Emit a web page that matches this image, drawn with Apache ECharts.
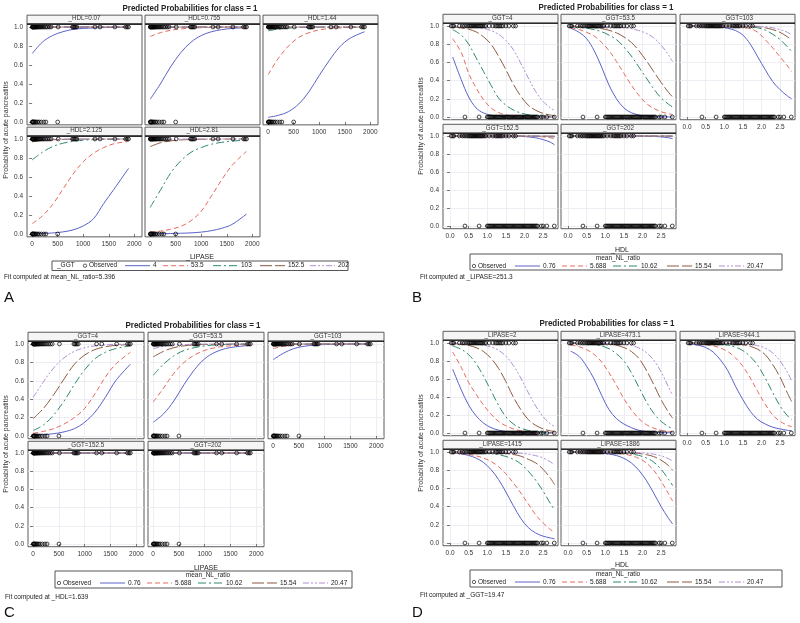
<!DOCTYPE html>
<html><head><meta charset="utf-8">
<script src="https://cdn.jsdelivr.net/npm/echarts/dist/echarts.min.js"></script>
<style>html,body{margin:0;padding:0;background:#fff}#c{width:800px;height:623px}</style>
</head><body><div id="c"></div><script>
// ---------- tick labels ----------
const lipTicks=[0,500,1000,1500,2000];
const hdlTicks=[0,0.5,1,1.5,2,2.5];
const probTicks=[0,0.2,0.4,0.6,0.8,1];
// ---------- x grids of the fitted curves ----------
const lipaseX=[2,200,400,600,800,1000,1200,1400,1600,1886];
const hdlX=[0.07,0.3,0.5,0.7,0.9,1.1,1.3,1.5,1.7,1.9,2.1,2.3,2.5,2.7,2.81];
// ---------- observed points ----------
const obsLipase1=[2,8,15,22,30,38,46,55,65,75,88,100,115,130,150,170,190,215,240,270,300,335,370,510,790,810,830,850,875,1230,1330,1620,1830,1860,1886];
const obsLipase0=[2,8,15,25,35,50,65,85,110,140,180,230,270,500];
const obsHdl1=[0.03,0.07,0.1,0.25,0.33,0.38,0.43,0.48,0.52,0.55,0.58,0.61,0.64,0.67,0.7,0.73,0.76,0.79,0.82,0.85,0.88,0.92,0.96,1.05,1.15,1.22,1.26,1.3,1.34,1.38,1.42,1.5,1.58,1.7,1.76];
const obsHdl0=[0.4,0.78,1.0,1.03,1.06,1.09,1.12,1.15,1.18,1.21,1.24,1.27,1.3,1.33,1.36,1.39,1.42,1.45,1.48,1.51,1.54,1.57,1.6,1.63,1.66,1.69,1.72,1.75,1.78,1.81,1.84,1.87,1.9,1.93,1.96,1.99,2.02,2.05,2.08,2.11,2.14,2.17,2.2,2.23,2.26,2.29,2.32,2.35,2.45,2.5,2.6,2.8];
// ---------- legend levels / strip headers ----------
const ggtLevels=['4','53.5','103','152.5','202'];
const nlLevels=['0.76','5.688','10.62','15.54','20.47'];
const aHeaders=['_HDL=0.07','_HDL=0.755','_HDL=1.44','_HDL=2.125','_HDL=2.81'];
const bHeaders=['_GGT=4','_GGT=53.5','_GGT=103','_GGT=152.5','_GGT=202'];
const cHeaders=['_GGT=4','_GGT=53.5','_GGT=103','_GGT=152.5','_GGT=202'];
const dHeaders=['_LIPASE=2','_LIPASE=473.1','_LIPASE=944.1','_LIPASE=1415','_LIPASE=1886'];
// ---------- Panel A: P vs LIPASE, curves by _GGT ----------
const a_hdl007=[[0.72,0.84,0.91,0.95,0.975,0.985,0.99,0.994,0.996,0.998],[0.99,0.994,0.997,0.998,0.999,1,1,1,1,1],[0.999,0.999,1,1,1,1,1,1,1,1],[1,1,1,1,1,1,1,1,1,1],[1,1,1,1,1,1,1,1,1,1]];
const a_hdl0755=[[0.24,0.40,0.58,0.73,0.84,0.91,0.95,0.972,0.985,0.993],[0.90,0.94,0.965,0.98,0.988,0.993,0.996,0.998,0.999,0.999],[0.99,0.994,0.997,0.998,0.999,1,1,1,1,1],[0.999,1,1,1,1,1,1,1,1,1],[1,1,1,1,1,1,1,1,1,1]];
const a_hdl144=[[0.05,0.07,0.11,0.19,0.32,0.49,0.65,0.79,0.88,0.95],[0.50,0.67,0.80,0.89,0.94,0.97,0.983,0.99,0.995,0.998],[0.96,0.978,0.988,0.994,0.997,0.998,0.999,1,1,1],[0.997,0.998,0.999,1,1,1,1,1,1,1],[0.999,1,1,1,1,1,1,1,1,1]];
const a_hdl2125=[[0.003,0.005,0.011,0.022,0.043,0.085,0.16,0.32,0.47,0.69],[0.11,0.19,0.31,0.47,0.63,0.76,0.85,0.91,0.95,0.975],[0.78,0.86,0.92,0.955,0.975,0.987,0.993,0.996,0.998,0.999],[0.97,0.985,0.992,0.996,0.998,0.999,1,1,1,1],[0.995,0.998,0.999,1,1,1,1,1,1,1]];
const a_hdl281=[[0.002,0.003,0.005,0.008,0.012,0.02,0.035,0.06,0.1,0.21],[0.02,0.03,0.05,0.08,0.14,0.24,0.4,0.57,0.72,0.87],[0.28,0.46,0.64,0.77,0.86,0.91,0.945,0.965,0.978,0.988],[0.92,0.96,0.98,0.99,0.995,0.997,0.998,0.999,1,1],[0.985,0.993,0.997,0.999,1,1,1,1,1,1]];
// ---------- Panel B: P vs HDL, curves by mean_NL_ratio ----------
const b_ggt4=[[0.66,0.41,0.22,0.1,0.044,0.019,0.008,0.003,0.001,0,0,0,0,0,0],[0.86,0.71,0.48,0.32,0.19,0.1,0.05,0.022,0.01,0.005,0.002,0.001,0,0,0],[0.96,0.9,0.8,0.65,0.5,0.35,0.21,0.13,0.077,0.044,0.025,0.015,0.008,0.005,0.004],[0.99,0.98,0.965,0.935,0.88,0.8,0.67,0.52,0.36,0.23,0.13,0.074,0.04,0.021,0.015],[0.998,0.996,0.993,0.986,0.974,0.95,0.91,0.84,0.74,0.59,0.43,0.28,0.17,0.1,0.07]];
const b_ggt535=[[0.975,0.93,0.86,0.73,0.55,0.35,0.2,0.1,0.047,0.022,0.01,0.005,0.002,0.001,0.001],[0.98,0.96,0.93,0.89,0.82,0.73,0.61,0.48,0.35,0.24,0.15,0.095,0.058,0.035,0.028],[0.99,0.985,0.976,0.96,0.937,0.9,0.85,0.77,0.67,0.55,0.43,0.31,0.21,0.14,0.11],[0.996,0.993,0.989,0.982,0.971,0.953,0.925,0.88,0.82,0.73,0.62,0.5,0.38,0.27,0.22],[1,0.999,0.998,0.997,0.996,0.994,0.99,0.984,0.972,0.95,0.92,0.87,0.79,0.68,0.61]];
const b_ggt103=[[0.999,0.998,0.996,0.993,0.987,0.975,0.95,0.9,0.8,0.66,0.52,0.39,0.3,0.23,0.2],[1,1,0.999,0.999,0.998,0.997,0.993,0.985,0.97,0.93,0.85,0.76,0.66,0.56,0.5],[1,1,1,1,1,0.999,0.998,0.995,0.99,0.98,0.955,0.91,0.85,0.77,0.72],[1,1,1,1,1,1,1,0.999,0.997,0.993,0.98,0.96,0.93,0.88,0.85],[1,1,1,1,1,1,1,1,0.999,0.997,0.99,0.98,0.96,0.93,0.9]];
const b_ggt1525=[[1,1,1,1,1,1,1,0.999,0.998,0.996,0.99,0.98,0.96,0.93,0.9],[1,1,1,1,1,1,1,1,1,0.999,0.998,0.995,0.99,0.98,0.97],[1,1,1,1,1,1,1,1,1,1,0.999,0.998,0.996,0.993,0.99],[1,1,1,1,1,1,1,1,1,1,1,1,0.999,0.998,0.997],[1,1,1,1,1,1,1,1,1,1,1,1,1,0.999,0.999]];
const b_ggt202=[[1,1,1,1,1,1,1,1,1,0.999,0.998,0.995,0.99,0.98,0.97],[1,1,1,1,1,1,1,1,1,1,1,0.999,0.998,0.996,0.994],[1,1,1,1,1,1,1,1,1,1,1,1,0.999,0.999,0.998],[1,1,1,1,1,1,1,1,1,1,1,1,1,1,0.999],[1,1,1,1,1,1,1,1,1,1,1,1,1,1,1]];
// ---------- Panel C: P vs LIPASE, curves by mean_NL_ratio ----------
const c_ggt4=[[0.01,0.015,0.025,0.045,0.08,0.15,0.26,0.42,0.6,0.78],[0.03,0.05,0.08,0.13,0.2,0.3,0.46,0.64,0.78,0.91],[0.06,0.12,0.23,0.38,0.56,0.72,0.84,0.91,0.95,0.98],[0.19,0.3,0.45,0.62,0.78,0.88,0.94,0.97,0.985,0.993],[0.42,0.59,0.74,0.85,0.92,0.96,0.98,0.99,0.995,0.998]];
const c_ggt535=[[0.15,0.24,0.38,0.56,0.72,0.84,0.91,0.95,0.97,0.985],[0.37,0.52,0.68,0.8,0.88,0.93,0.96,0.975,0.985,0.993],[0.66,0.78,0.87,0.93,0.96,0.98,0.99,0.994,0.997,0.999],[0.86,0.92,0.96,0.98,0.99,0.995,0.998,0.999,1,1],[0.95,0.975,0.988,0.994,0.997,0.999,1,1,1,1]];
const c_ggt103=[[0.83,0.9,0.95,0.975,0.988,0.994,0.997,0.999,1,1],[0.95,0.975,0.988,0.994,0.997,0.999,1,1,1,1],[0.99,0.995,0.998,0.999,1,1,1,1,1,1],[0.998,0.999,1,1,1,1,1,1,1,1],[1,1,1,1,1,1,1,1,1,1]];
const c_ggt1525=[[0.995,0.997,0.999,1,1,1,1,1,1,1],[0.999,1,1,1,1,1,1,1,1,1],[1,1,1,1,1,1,1,1,1,1],[1,1,1,1,1,1,1,1,1,1],[1,1,1,1,1,1,1,1,1,1]];
const c_ggt202=[[0.998,0.999,1,1,1,1,1,1,1,1],[1,1,1,1,1,1,1,1,1,1],[1,1,1,1,1,1,1,1,1,1],[1,1,1,1,1,1,1,1,1,1],[1,1,1,1,1,1,1,1,1,1]];
// ---------- Panel D: P vs HDL, curves by mean_NL_ratio ----------
const d_lip2=[[0.71,0.48,0.31,0.19,0.11,0.06,0.032,0.017,0.009,0.005,0.003,0.002,0.001,0.001,0.001],[0.9,0.73,0.56,0.43,0.31,0.21,0.13,0.08,0.045,0.025,0.014,0.008,0.005,0.003,0.002],[0.967,0.93,0.87,0.77,0.63,0.47,0.31,0.18,0.1,0.054,0.028,0.015,0.008,0.004,0.003],[0.993,0.986,0.973,0.948,0.905,0.83,0.72,0.57,0.4,0.26,0.15,0.085,0.046,0.024,0.017],[0.998,0.997,0.994,0.988,0.977,0.956,0.92,0.854,0.75,0.61,0.45,0.3,0.18,0.1,0.072]];
const d_lip4731=[[0.91,0.85,0.74,0.6,0.42,0.26,0.16,0.1,0.06,0.03,0.017,0.01,0.005,0.003,0.002],[0.979,0.958,0.926,0.873,0.79,0.67,0.53,0.38,0.26,0.16,0.094,0.054,0.03,0.017,0.013],[0.998,0.995,0.991,0.982,0.966,0.936,0.88,0.8,0.67,0.51,0.35,0.22,0.13,0.07,0.05],[1,0.999,0.998,0.997,0.994,0.988,0.975,0.95,0.906,0.83,0.7,0.54,0.37,0.23,0.165],[1,1,0.999,0.998,0.997,0.995,0.992,0.986,0.972,0.945,0.896,0.81,0.68,0.51,0.42]];
const d_lip9441=[[0.99,0.975,0.95,0.9,0.81,0.69,0.52,0.37,0.24,0.15,0.1,0.065,0.045,0.03,0.025],[0.995,0.99,0.982,0.969,0.944,0.903,0.836,0.74,0.61,0.46,0.32,0.2,0.13,0.085,0.07],[1,0.999,0.998,0.996,0.987,0.976,0.954,0.915,0.848,0.75,0.61,0.45,0.3,0.19,0.15],[1,1,1,0.999,0.998,0.995,0.99,0.981,0.963,0.93,0.87,0.76,0.62,0.44,0.35],[1,1,1,1,0.999,0.998,0.996,0.992,0.985,0.971,0.943,0.89,0.8,0.67,0.58]];
const d_lip1415=[[0.989,0.979,0.962,0.933,0.884,0.807,0.7,0.56,0.41,0.27,0.17,0.11,0.075,0.055,0.045],[0.991,0.984,0.974,0.958,0.933,0.896,0.84,0.76,0.66,0.55,0.43,0.31,0.22,0.146,0.115],[0.999,0.998,0.997,0.995,0.99,0.983,0.971,0.951,0.92,0.87,0.79,0.69,0.57,0.43,0.36],[1,1,0.999,0.998,0.997,0.994,0.99,0.984,0.973,0.954,0.92,0.88,0.81,0.71,0.64],[1,1,1,1,1,0.999,0.998,0.996,0.992,0.986,0.977,0.96,0.935,0.89,0.86]];
const d_lip1886=[[1,0.999,0.998,0.995,0.988,0.978,0.961,0.93,0.88,0.8,0.69,0.55,0.4,0.27,0.21],[1,1,1,0.999,0.997,0.993,0.987,0.977,0.96,0.93,0.88,0.8,0.68,0.54,0.46],[1,1,1,1,0.999,0.997,0.994,0.988,0.979,0.963,0.935,0.89,0.81,0.7,0.63],[1,1,1,1,1,0.999,0.997,0.995,0.991,0.984,0.971,0.95,0.91,0.85,0.8],[1,1,1,1,1,1,0.999,0.998,0.996,0.993,0.987,0.976,0.958,0.926,0.9]];

// ================= build =================
const FONT="'Liberation Sans Narrow','Liberation Sans',Arial,sans-serif";
const curveStyles=[
  {color:'#5a62c8',type:'solid',dash:null},
  {color:'#e66a5e',type:[5,3],dash:[5,3]},
  {color:'#2d8a6c',type:[8,3,2,3],dash:[8,3,2,3]},
  {color:'#8c5b3f',type:[12,3],dash:[12,3]},
  {color:'#b08fd4',type:[6,2,2,2,2,2],dash:[6,2,2,2,2,2]}
];
const panels=[
  {kind:'lip',cols:[27,145,263],w:115,y1:[27,139],ppu:[95,95],heads:aHeaders,grid:false,
   sets:[a_hdl007,a_hdl0755,a_hdl144,a_hdl2125,a_hdl281]},
  {kind:'hdl',cols:[443,561,680],w:115,y1:[26,136],ppu:[91,90],heads:bHeaders,grid:true,
   sets:[b_ggt4,b_ggt535,b_ggt103,b_ggt1525,b_ggt202]},
  {kind:'lip',cols:[28,148,268],w:116,y1:[344,453],ppu:[92,91],heads:cHeaders,grid:true,
   sets:[c_ggt4,c_ggt535,c_ggt103,c_ggt1525,c_ggt202]},
  {kind:'hdl',cols:[443,561,680],w:115,y1:[343,452],ppu:[90,91],heads:dHeaders,grid:true,
   sets:[d_lip2,d_lip4731,d_lip9441,d_lip1415,d_lip1886]}
];
const YMIN=-0.03,YMAX=1.03;
const grids=[],xAxes=[],yAxes=[],series=[],graphics=[];
function T(x,y,s,o){o=o||{};return {type:'text',x:x,y:y,scaleX:o.sx||1,rotation:o.rot||0,silent:true,z:o.z||50,
  style:{text:s,x:0,y:0,fill:o.fill||'#222',fontSize:o.size||7,fontWeight:o.weight||'normal',fontFamily:o.family||FONT,
  align:o.align||'left',textAlign:o.align||'left',verticalAlign:'middle',textVerticalAlign:'middle'}};}
let gi=0;
panels.forEach(p=>{
  const xs=p.kind==='lip'?lipaseX:hdlX;
  const xmin=p.kind==='lip'?-100:-0.19, xmax=p.kind==='lip'?2150:2.9;
  const xt=p.kind==='lip'?lipTicks:hdlTicks;
  const o1=p.kind==='lip'?obsLipase1:obsHdl1, o0=p.kind==='lip'?obsLipase0:obsHdl0;
  for(let k=0;k<5;k++){
    const row=k<3?0:1,col=k<3?k:k-3;
    const top=p.y1[row]-(YMAX-1)*p.ppu[row], h=(YMAX-YMIN)*p.ppu[row], left=p.cols[col];
    const xLab=(row===1)||(col===2), yLab=(col===0);
    grids.push({left:left,top:top,width:p.w,height:h,show:true,borderColor:'#5c5c5c',borderWidth:1,backgroundColor:'#fff',containLabel:false,outerBoundsMode:'none'});
    xAxes.push({gridIndex:gi,type:'value',min:xmin,max:xmax,
      axisLine:{show:false},
      axisTick:{show:xLab,customValues:xt,length:3,lineStyle:{color:'#555',width:0.8}},
      axisLabel:{show:xLab,customValues:xt,fontSize:6.5,color:'#333',fontFamily:FONT,margin:4,
        formatter:v=>p.kind==='lip'?String(v):v.toFixed(1)},
      splitLine:{show:p.grid,lineStyle:{color:'#e8e8f0',width:0.8}}});
    yAxes.push({gridIndex:gi,type:'value',min:YMIN,max:YMAX,
      axisLine:{show:false},
      axisTick:{show:yLab,customValues:probTicks,length:3,lineStyle:{color:'#555',width:0.8}},
      axisLabel:{show:yLab,customValues:probTicks,fontSize:6.5,color:'#333',fontFamily:FONT,margin:4,formatter:v=>v.toFixed(1)},
      splitLine:{show:p.grid,lineStyle:{color:'#e8e8f0',width:0.8}}});
    p.sets[k].forEach((ys,ci)=>{
      series.push({type:'line',xAxisIndex:gi,yAxisIndex:gi,data:xs.map((x,i)=>[x,ys[i]]),
        showSymbol:false,smooth:0.35,silent:true,animation:false,z:3,
        lineStyle:{color:curveStyles[ci].color,type:curveStyles[ci].type,width:1}});
    });
    series.push({type:'scatter',xAxisIndex:gi,yAxisIndex:gi,silent:true,animation:false,z:4,
      data:o1.map(x=>[x,1]).concat(o0.map(x=>[x,0])),symbol:'circle',symbolSize:3.8,
      itemStyle:{color:'rgba(0,0,0,0)',borderColor:'#000',borderWidth:0.9}});
    // strip header
    graphics.push({type:'rect',silent:true,z:40,shape:{x:left,y:top-9,width:p.w,height:9},style:{fill:'#f5f5f5',stroke:'#5c5c5c',lineWidth:1}});
    graphics.push({type:'line',silent:true,z:41,shape:{x1:left,y1:top,x2:left+p.w,y2:top},style:{stroke:'#2a2a2a',lineWidth:1.6}});
    graphics.push(T(left+p.w/2,top-5.6,p.heads[k],{align:'center',size:6.8,sx:0.92,fill:'#333',family:"'Liberation Sans',Arial,sans-serif",z:60}));
    gi++;
  }
});
// titles
[[190,8],[606,7],[193,325],[607,323]].forEach(c=>graphics.push(T(c[0],c[1],'Predicted Probabilities for class = 1',{align:'center',size:9.5,weight:'bold',sx:0.84,family:"'Liberation Sans',Arial,sans-serif"})));
// y titles
[[6,130],[421,126],[6,444],[421,443]].forEach(c=>graphics.push(T(c[0],c[1],'Probability of acute pancreatitis',{align:'center',size:7,rot:Math.PI/2,fill:'#333'})));
// x titles
graphics.push(T(200,257,'_LIPASE',{align:'center',size:7}));
graphics.push(T(620,250,'_HDL',{align:'center',size:7}));
graphics.push(T(204,568,'_LIPASE',{align:'center',size:7}));
graphics.push(T(620,565,'_HDL',{align:'center',size:7}));
// legends
function legend(bx,by,bw,bh,title,titleX,titleY,itemY,levels,xsLayout,obsX,lbl){
  graphics.push({type:'rect',silent:true,z:40,shape:{x:bx,y:by,width:bw,height:bh},style:{fill:'#fff',stroke:'#555',lineWidth:1}});
  if(title) graphics.push(T(titleX,titleY,title,{align:'center',size:6.5}));
  if(lbl) graphics.push(T(lbl[0],itemY,lbl[1],{size:6.5}));
  graphics.push({type:'circle',silent:true,z:41,shape:{cx:obsX,cy:itemY,r:1.7},style:{fill:'none',stroke:'#222',lineWidth:0.7}});
  graphics.push(T(obsX+4,itemY,'Observed',{size:6.5}));
  levels.forEach((lv,i)=>{
    const [x1,x2]=xsLayout[i];
    graphics.push({type:'line',silent:true,z:41,shape:{x1:x1,y1:itemY,x2:x2,y2:itemY},style:{stroke:curveStyles[i].color,lineWidth:1,lineDash:curveStyles[i].dash}});
    graphics.push(T(x2+3,itemY,lv,{size:6.5}));
  });
}
legend(52,261,296,9.5,null,0,0,265.7,ggtLevels,[[125,150],[163,188],[213,238],[260,285],[310,335]],85,[57,'_GGT']);
legend(470,254,312,16,'mean_NL_ratio',618,258.5,266,nlLevels,[[515,540],[562,587],[613,638],[667,692],[719,744]],474,null);
legend(55,571,297,17,'mean_NL_ratio',208,575.5,583,nlLevels,[[100,125],[147,172],[198,223],[252,277],[303,328]],59,null);
legend(470,570,312,17,'mean_NL_ratio',618,574.5,582,nlLevels,[[515,540],[562,587],[613,638],[667,692],[719,744]],474,null);
// fit notes and panel letters
graphics.push(T(4,277,'Fit computed at mean_NL_ratio=5.396',{size:6.5}));
graphics.push(T(420,277,'Fit computed at _LIPASE=251.3',{size:6.5}));
graphics.push(T(5,597,'Fit computed at _HDL=1.639',{size:6.5}));
graphics.push(T(420,595,'Fit computed at _GGT=19.47',{size:6.5}));
[[4,298,'A'],[412,298,'B'],[4,613,'C'],[412,613,'D']].forEach(c=>graphics.push(T(c[0],c[1],c[2],{size:15,family:"'Liberation Sans',Arial,sans-serif",fill:'#111'})));

const chart=echarts.init(document.getElementById('c'),null,{renderer:'canvas'});
chart.setOption({animation:false,backgroundColor:'#fff',grid:grids,xAxis:xAxes,yAxis:yAxes,series:series,graphic:{elements:graphics}});
</script></body></html>
